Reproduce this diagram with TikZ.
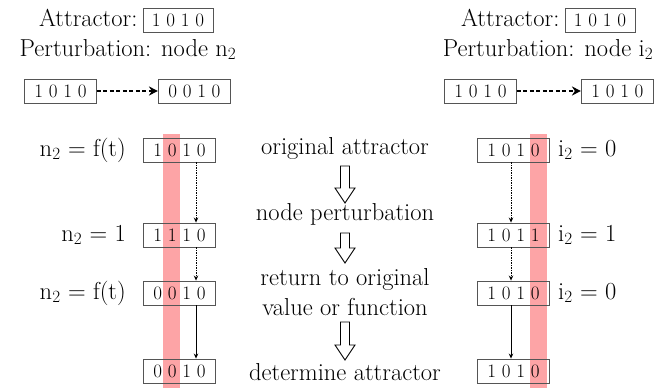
\documentclass[tikz,border=0pt]{standalone}
\usetikzlibrary{arrows.meta,positioning}
\definecolor{bandred}{RGB}{253,164,166}
\definecolor{boxgray}{RGB}{85,85,85}
\tikzset{
    %Define style for state boxes
    state/.style={
           rectangle,
           draw=boxgray, line width=0.9pt,
           minimum width=72pt,
           minimum height=24pt,
           inner sep=0pt,
           font=\fontsize{19}{23}\selectfont,
           text centered},
    %Define style for texts
    txt/.style={
           inner sep=0pt,
           font=\fontsize{24.5}{29}\selectfont},
    lbl/.style={
           txt,
           text height=19pt,
           text depth=7pt},
    % Define arrow styles
    jump/.style={
           -{Stealth[length=9pt,width=9pt]},
           line width=1.8pt,
           dash pattern=on 4pt off 2.5pt},
    flow/.style={
           -{Stealth[length=5pt,width=4.5pt]},
           line width=0.8pt},
    dots/.style={
           flow,
           dash pattern=on 1.5pt off 1pt},
    hollow/.style={
           draw=black, line width=0.9pt,
           fill=white, line join=miter},
    band/.style={fill=bandred, draw=none}
}
% hollow block arrow hanging from a named coordinate
\newcommand{\fatarrow}[2]{%
  \draw[hollow] (#1) ++(-4.5,0) -- ++(0,#2-15) -- ++(-5.5,0) -- ++(10,15)
    -- ++(10,-15) -- ++(-5.5,0) -- ++(0,-#2+15) -- cycle;}

\begin{document}
\begin{tikzpicture}[x=1pt,y=-1pt]
\useasboundingbox (0,0) rectangle (658,388);
\fill[band] (163,134) rectangle (180,388);
\fill[band] (529.5,134) rectangle (546.5,388);
% left case
\node[state, minimum width=70pt] (attL) at (178,20) {1 0 1 0};
\node[lbl, left=5pt of attL] {Attractor:};
\node[lbl] (pertL) at (128,50) {Perturbation: node n\textsubscript{2}};
\node[state] (a1) at (60.5,91) {1 0 1 0};
\node[state, right=61pt of a1] (a2) {0 0 1 0};
\draw[jump] (a1) -- (a2);
\node[state] (l1) at (179.5,150) {1 0 1 0};
\node[state] (l2) at (179.5,235) {1 1 1 0};
\node[state] (l3) at (179.5,293) {0 0 1 0};
\node[state] (l4) at (179.5,371) {0 0 1 0};
\node[lbl, left=17pt of l1] {n\textsubscript{2} = f(t)};
\node[lbl, left=17pt of l2] {n\textsubscript{2} = 1};
\node[lbl, left=17pt of l3] {n\textsubscript{2} = f(t)};
\draw[dots] ([xshift=16.5pt]l1.south) -- ([xshift=16.5pt]l2.north);
\draw[dots] ([xshift=16.5pt]l2.south) -- ([xshift=16.5pt]l3.north);
\draw[flow] ([xshift=16.5pt]l3.south) -- ([xshift=16.5pt]l4.north);
% steps
\node[txt, anchor=base] (m1) at (345,154) {original attractor};
\node[txt, anchor=base] (m2) at (345,220) {node perturbation};
\node[txt, anchor=base] (m3) at (345,285) {return to original};
\node[txt, anchor=base] (m4) at (345,315) {value or function};
\node[txt, anchor=base] (m5) at (345,380) {determine attractor};
\coordinate (h1) at (345,166);
\coordinate (h2) at (345,233);
\coordinate (h3) at (345,322);
\fatarrow{h1}{37}
\fatarrow{h2}{30}
\fatarrow{h3}{38}
% right case
\node[state, minimum width=70pt] (attR) at (600,20) {1 0 1 0};
\node[lbl, left=5pt of attR] {Attractor:};
\node[lbl] (pertR) at (548,50) {Perturbation: node i\textsubscript{2}};
\node[state] (b1) at (480.5,91) {1 0 1 0};
\node[state, right=64pt of b1] (b2) {1 0 1 0};
\draw[jump] (b1) -- (b2);
\node[state] (r1) at (513.5,150) {1 0 1 0};
\node[state] (r2) at (513.5,235) {1 0 1 1};
\node[state] (r3) at (513.5,293) {1 0 1 0};
\node[state] (r4) at (513.5,371) {1 0 1 0};
\node[lbl, right=8pt of r1] {i\textsubscript{2} = 0};
\node[lbl, right=8pt of r2] {i\textsubscript{2} = 1};
\node[lbl, right=8pt of r3] {i\textsubscript{2} = 0};
\draw[dots] ([xshift=-2.5pt]r1.south) -- ([xshift=-2.5pt]r2.north);
\draw[dots] ([xshift=-2.5pt]r2.south) -- ([xshift=-2.5pt]r3.north);
\draw[flow] ([xshift=-2.5pt]r3.south) -- ([xshift=-2.5pt]r4.north);
\end{tikzpicture}
\end{document}
